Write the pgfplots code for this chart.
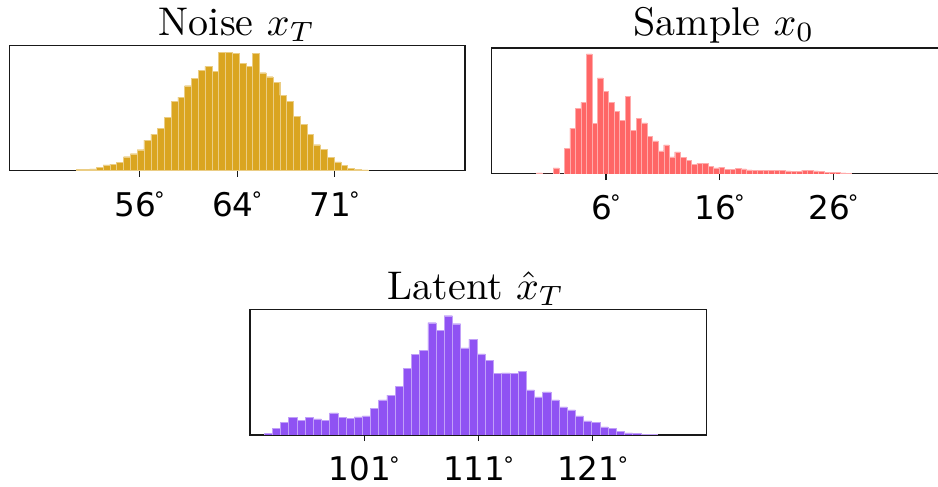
\documentclass[border=0pt]{standalone}
\usepackage{fontspec}
\usepackage{graphicx}
\usepackage{pgfplots}
\usepackage{pgfplotstable}
\pgfplotsset{compat=1.18}
\newfontfamily\dejavu{DejaVu Sans}
\definecolor{noisec}{HTML}{DAA520}
\definecolor{samplec}{HTML}{FF6666}
\definecolor{latentc}{HTML}{8F52F3}
\newcommand{\dg}{\kern-0.06em\raisebox{0.27em}{\scalebox{0.65}{°}}}
\newcommand{\ttl}[1]{\scalebox{2.88}{\fontsize{10}{12}\selectfont #1}}

% bin left edge, bar height (last row closes the interval)
\pgfplotstableread{
x y
51.10 3
51.62 4
52.14 5
52.67 10
53.19 17
53.71 18
54.23 24
54.76 41
55.28 50
55.80 62
56.32 91
56.85 109
57.37 126
57.89 160
58.41 208
58.93 220
59.46 254
59.98 277
60.50 301
61.02 312
61.55 297
62.07 355
62.59 355
63.11 351
63.64 321
64.16 311
64.68 350
65.20 293
65.72 281
66.25 264
66.77 225
67.29 207
67.81 162
68.34 139
68.86 109
69.38 77
69.90 63
70.43 40
70.95 26
71.47 15
71.99 6
72.51 3
73.04 2
73.56 0
}\noise

\pgfplotstableread{
x y
-0.10 3
0.39 0
0.87 0
1.36 18
1.85 0
2.33 76
2.82 137
3.30 196
3.79 214
4.28 360
4.76 151
5.25 288
5.73 247
6.22 214
6.70 188
7.19 161
7.68 233
8.16 130
8.65 166
9.13 153
9.62 112
10.11 99
10.59 69
11.08 87
11.56 51
12.05 66
12.53 49
13.02 41
13.51 28
13.99 31
14.48 32
14.96 23
15.45 18
15.94 20
16.42 14
16.91 14
17.39 17
17.88 15
18.36 12
18.85 10
19.34 10
19.82 10
20.31 10
20.79 11
21.28 11
21.76 9
22.25 7
22.74 8
23.22 10
23.71 10
24.19 9
24.68 7
25.16 5
25.65 4
26.14 4
26.62 3
27.11 2
27.59 0
}\sample

\pgfplotstableread{
x y
92.22 5
92.94 19
93.65 37
94.37 52
95.09 43
95.81 53
96.52 48
97.24 44
97.96 66
98.68 52
99.39 50
100.11 54
100.83 57
101.54 80
102.26 105
102.98 119
103.70 146
104.41 199
105.13 241
105.85 254
106.57 336
107.28 313
108.00 357
108.72 333
109.44 261
110.15 287
110.87 243
111.59 224
112.30 184
113.02 186
113.74 184
114.46 190
115.17 135
115.89 114
116.61 129
117.33 105
118.04 84
118.76 75
119.48 57
120.19 42
120.91 38
121.63 24
122.35 19
123.06 10
123.78 6
124.50 5
125.22 2
125.93 1
126.65 0
}\latent

\pgfplotsset{hist/.style={
  scale only axis, enlargelimits=false, ymin=0,
  ytick=\empty, tick align=outside, xtick pos=left,
  axis line style={line width=1.0pt, draw=black!90},
  major tick length=4.5pt,
  xtick style={line width=1.0pt, draw=black!90},
  xticklabel style={font=\dejavu\fontsize{23.5}{26}\selectfont, anchor=base, yshift=-28.6pt},
}}

\begin{document}
\begin{tikzpicture}
\useasboundingbox (0pt,0pt) rectangle (675.36pt,-350.64pt);

\begin{axis}[hist, at={(6.70pt,-32.90pt)}, anchor=north west,
  width=328.1pt, height=89.8pt, xmin=45.97, xmax=81.02, ymax=374,
  xtick={56,63.5,71}, xticklabels={56\dg,64\dg,71\dg}]
\addplot[ybar interval, fill=noisec, draw=noisec!55!white, line width=0.3pt] table[x=x,y=y] {\noise};
\end{axis}

\begin{axis}[hist, at={(354.02pt,-34.42pt)}, anchor=north west,
  width=328.1pt, height=90.7pt, xmin=-4.05, xmax=36.03, ymax=378,
  xtick={6,16,26}, xticklabels={6\dg,16\dg,26\dg}]
\addplot[ybar interval, fill=samplec, draw=samplec!55!white, line width=0.3pt] table[x=x,y=y] {\sample};
\end{axis}

\begin{axis}[hist, at={(180.0pt,-222.98pt)}, anchor=north west,
  width=328.8pt, height=90.2pt, xmin=90.99, xmax=130.98, ymax=375,
  xtick={101,111,121}, xticklabels={101\dg,111\dg,121\dg}]
\addplot[ybar interval, fill=latentc, draw=latentc!55!white, line width=0.3pt] table[x=x,y=y] {\latent};
\end{axis}

\node[anchor=base, inner sep=0pt] at (170.6pt,-25.56pt) {\ttl{Noise $x_T$}};
\node[anchor=base, inner sep=0pt] at (521.3pt,-25.56pt) {\ttl{Sample $x_0$}};
\node[anchor=base, inner sep=0pt] at (342.7pt,-215.3pt) {\ttl{Latent $\hat{x}_T$}};
\end{tikzpicture}
\end{document}
